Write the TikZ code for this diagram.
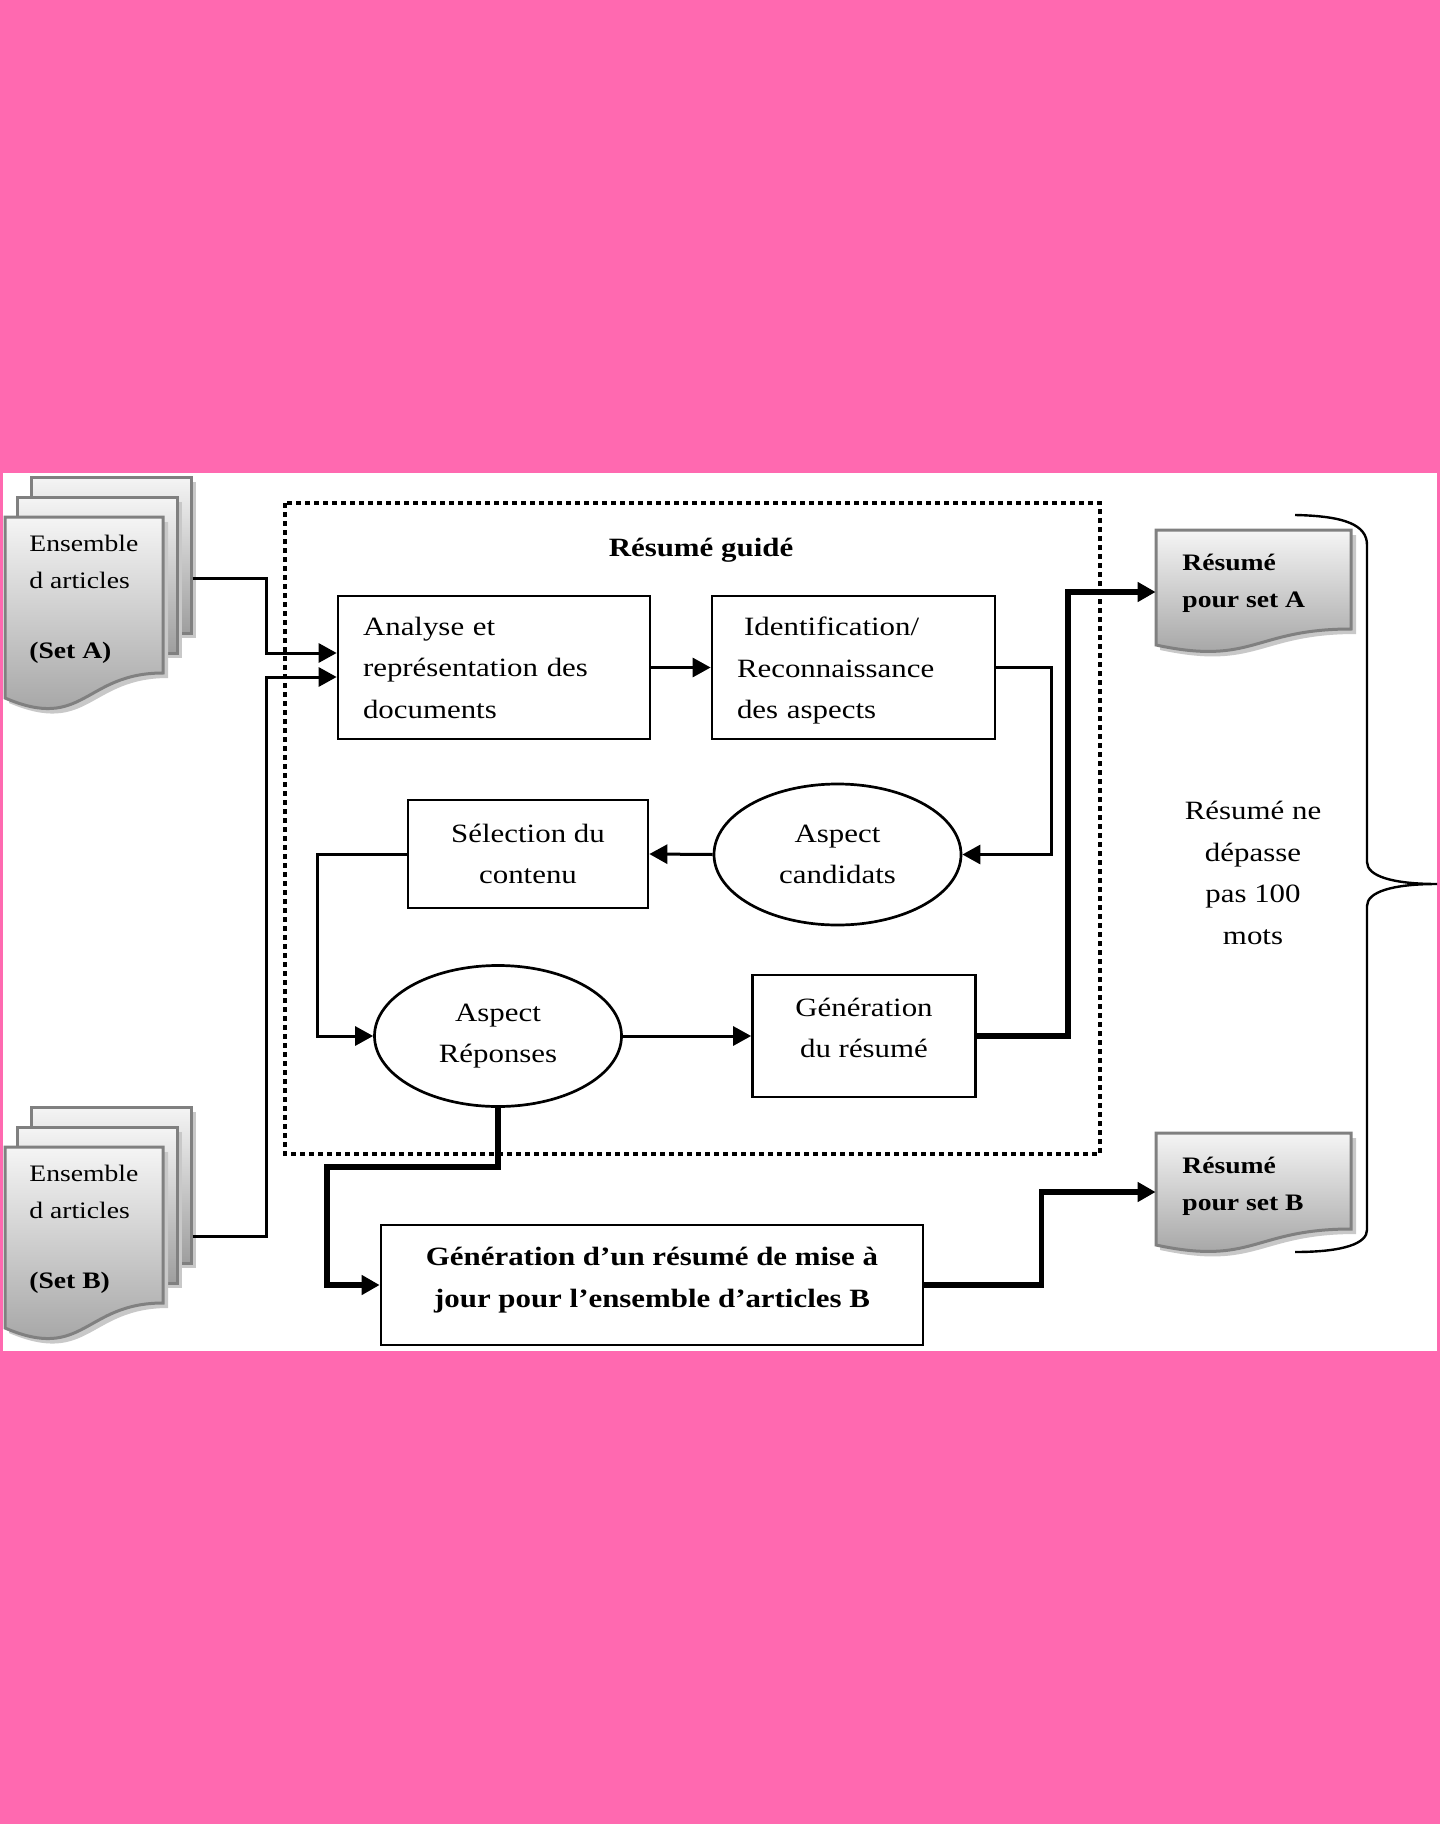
\documentclass[tikz,border=0pt]{standalone}
\usepackage{fontspec}
\setmainfont{Liberation Serif}[FakeStretch=1.17]
\usetikzlibrary{arrows.meta,shapes.geometric,calc}
\definecolor{bgpink}{HTML}{FF69B0}
\definecolor{edgegray}{HTML}{808080}
\definecolor{shadowgray}{HTML}{C8C8C8}
\newcommand\mainsz{\fontsize{13.2pt}{20.75pt}\selectfont}
\newcommand\docsz{\fontsize{11.8pt}{18.5pt}\selectfont}
\begin{document}
\begin{tikzpicture}[x=0.5pt,y=-0.5pt,
  box/.style={draw=black, line width=1.35pt, rectangle, inner sep=0pt, font=\mainsz},
  oval/.style={draw=black, line width=1.35pt, ellipse, inner sep=0pt, minimum width=123.5pt, minimum height=70.5pt, font=\mainsz, align=center},
  conn/.style={line width=1.5pt, -{Triangle[length=9pt,width=9.5pt]}},
  thickconn/.style={line width=2.8pt, -{Triangle[length=9pt,width=9.5pt]}},
  sheet/.style={draw=edgegray, line width=1.5pt, top color=white!96!black, bottom color=black!38},
  sheetnode/.style={sheet, rectangle, inner sep=0pt, minimum width=80pt, minimum height=78pt},
  doctext/.style={font=\docsz, anchor=base west, inner sep=0pt},
  anchorbox/.style={rectangle, inner sep=0pt, draw=none},
]
\useasboundingbox (0,0) rectangle (1440,1824);
\fill[bgpink] (0,0) rectangle (1440,1824);
\fill[white] (3,473) rectangle (1437,1351);

% dotted frame
\draw[line width=2.3pt, dash pattern=on 2.3pt off 2.2pt] (285,503) rectangle (1100,1154);
\node[font=\mainsz\bfseries] (title) at (701,550) {Résumé guidé};

% ---------- Set A stack ----------
\fill[shadowgray] (35,482) rectangle (196,638);
\node[sheetnode] (setAback) at (111,555) {};
\fill[shadowgray] (21,502) rectangle (182,658);
\node[sheetnode] (setAmid) at (97,575) {};
\fill[shadowgray] (9,522) -- (168,522) -- (168,678) .. controls (89,678) and (89,737) .. (9,703) -- cycle;
\path[sheet] (5,517) -- (163,517) -- (163,673) .. controls (84,673) and (84,732) .. (5,698) -- cycle;
\node[doctext] (aL1) at (29,551) {Ensemble};
\node[doctext] (aL2) at (29,588) {d articles};
\node[doctext] (aL3) at (29,658) {\bfseries (Set A)};

% ---------- Set B stack ----------
\fill[shadowgray] (35,1112) rectangle (196,1268);
\node[sheetnode] (setBback) at (111,1185) {};
\fill[shadowgray] (21,1132) rectangle (182,1288);
\node[sheetnode] (setBmid) at (97,1205) {};
\fill[shadowgray] (9,1152) -- (168,1152) -- (168,1308) .. controls (89,1308) and (89,1367) .. (9,1333) -- cycle;
\path[sheet] (5,1147) -- (163,1147) -- (163,1303) .. controls (84,1303) and (84,1362) .. (5,1328) -- cycle;
\node[doctext] (bL1) at (29,1181) {Ensemble};
\node[doctext] (bL2) at (29,1218) {d articles};
\node[doctext] (bL3) at (29,1288) {\bfseries (Set B)};

% ---------- Result A ----------
\fill[shadowgray] (1160,535) -- (1356,535) -- (1356,634) .. controls (1258,634) and (1258,671) .. (1160,650) -- cycle;
\path[sheet] (1156,530) -- (1351,530) -- (1351,629) .. controls (1253.5,629) and (1253.5,666) .. (1156,645) -- cycle;
\node[anchorbox, minimum width=97.5pt, minimum height=57.5pt] (resA) at (1253.5,587.5) {};
\node[doctext] (rA1) at (1182,570) {\bfseries Résumé};
\node[doctext] (rA2) at (1182,607) {\bfseries pour set A};

% ---------- Result B ----------
\fill[shadowgray] (1160,1138) -- (1356,1138) -- (1356,1234) .. controls (1258,1234) and (1258,1271) .. (1160,1250) -- cycle;
\path[sheet] (1156,1133) -- (1351,1133) -- (1351,1229) .. controls (1253.5,1229) and (1253.5,1266) .. (1156,1245) -- cycle;
\node[anchorbox, minimum width=97.5pt, minimum height=56pt] (resB) at (1253.5,1189) {};
\node[doctext] (rB1) at (1182,1173) {\bfseries Résumé};
\node[doctext] (rB2) at (1182,1210) {\bfseries pour set B};

% ---------- brace and its text ----------
\draw[line width=1.2pt] (1295,515) .. controls (1345,516) and (1367,525) .. (1367,545) -- (1367,862)
  .. controls (1367,876) and (1392,884) .. (1437,884)
  .. controls (1392,884) and (1367,892) .. (1367,906) -- (1367,1230)
  .. controls (1367,1243) and (1345,1252) .. (1295,1252);
\node[font=\mainsz, align=center] (limit) at (1253,873) {Résumé ne\\dépasse\\pas 100\\mots};

% ---------- process nodes ----------
\node[box, minimum width=156pt, minimum height=71.5pt, text width=131pt, align=left, inner xsep=12.5pt] (box1) at (494,667.5) {Analyse et\\représentation des\\documents};
\node[box, minimum width=141.5pt, minimum height=71.5pt] (box2) at (853.5,667.5) {};
\node[font=\mainsz, text width=116.5pt, align=left, inner xsep=0pt] (box2text) at (853.5,671) {\hspace*{3.6pt}Identification/\\Reconnaissance\\des aspects};
\node[box, minimum width=120pt, minimum height=54pt, align=center] (sel) at (528,854) {Sélection du\\contenu};
\node[oval] (cand) at (837.5,854.5) {Aspect\\candidats};
\node[oval] (rep) at (498,1036) {Aspect\\Réponses};
\node[box, minimum width=111.5pt, minimum height=61pt] (gen) at (864,1036) {};
\node[font=\mainsz, align=center] (gentext) at (864,1028) {Génération\\du résumé};
\node[box, minimum width=271pt, minimum height=60pt] (upd) at (652,1285) {};
\node[font=\mainsz\bfseries, align=center] (updtext) at (652,1280) {Génération d’un résumé de mise à\\jour pour l’ensemble d’articles B};

% ---------- connectors ----------
\draw[conn] ([yshift=-11.5pt]setAback.east) -- ++(74,0) |- ([yshift=7.25pt]box1.west);
\draw[conn] ([yshift=-25.5pt]setBback.east) -- ++(74,0) |- ([yshift=-4.75pt]box1.west);
\draw[conn] (box1.east) -- (box2.west);
\draw[conn] (box2.east) -- ++(55,0) |- (cand.east);
\draw[conn] (cand.west) -- (sel.east);
\draw[conn] (sel.west) -- ++(-89,0) |- (rep.west);
\draw[conn] (rep.east) -- (gen.west);
\draw[thickconn] (gen.east) -- ++(91,0) |- ([yshift=-2.25pt]resA.west);
\draw[thickconn] (rep.south) -- ++(0,59) -- ++(-171,0) |- (upd.west);
\draw[thickconn] (upd.east) -- ++(117,0) |- ([yshift=-1.5pt]resB.west);
\end{tikzpicture}
\end{document}
